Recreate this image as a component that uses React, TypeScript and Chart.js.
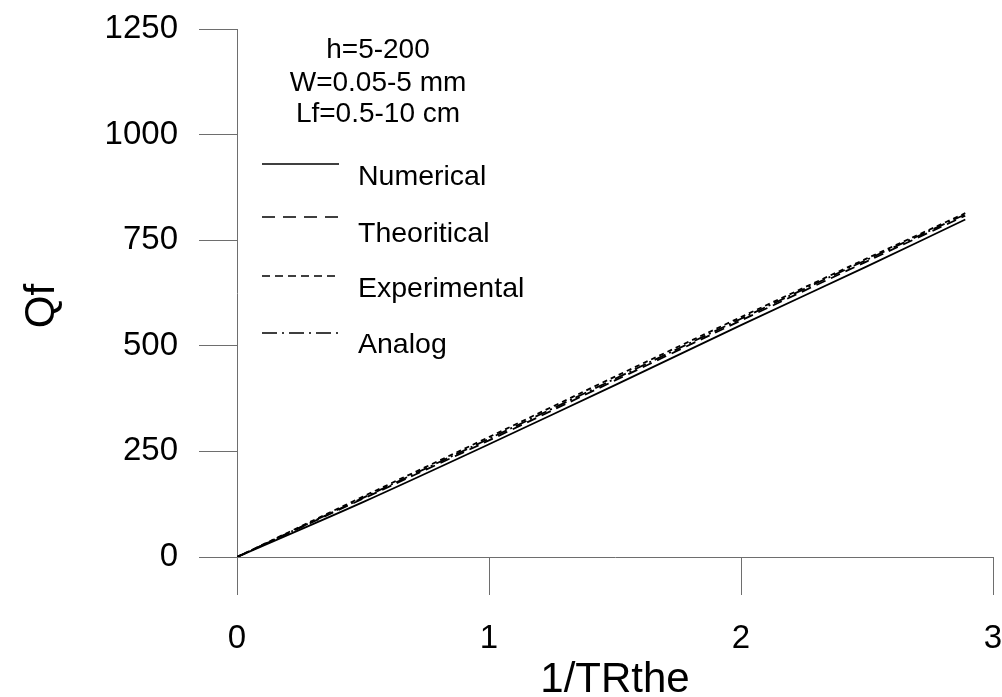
import React, { useEffect, useRef } from "react";
import { Chart, registerables } from "chart.js";

Chart.register(...registerables);

const xValues = [0, 0.5, 1, 1.5, 2, 2.5, 2.89];
const numerical = [0, 130, 267, 407, 549, 688, 799];
const theoritical = [0, 138, 276, 418, 560, 700, 808];
const experimental = [0, 143, 284, 427, 568, 707, 814];
const analog = [0, 140, 280, 422, 564, 704, 811];

const xTicks = [0, 1, 2, 3];
const yTicks = [0, 250, 500, 750, 1000, 1250];

const seriesNames = ["Numerical", "Theoritical", "Experimental", "Analog"];
const annotationLines = ["h=5-200", "W=0.05-5 mm", "Lf=0.5-10 cm"];
const xTitle = "1/TRthe";
const yTitle = "Qf";

const FONT = "'Liberation Sans', Arial, sans-serif";
const AXIS_COLOR = "#6e6e6e";

const plotDashes = [[], [10, 6], [5, 4], [12, 4, 2, 4]];
const legendDashes = [[], [13, 8], [8, 5], [15, 5, 2, 5]];

const overlayPlugin = {
  id: "overlay",
  afterDraw(chart: any) {
    const ctx = chart.ctx;
    const area = chart.chartArea;
    ctx.save();
    ctx.fillStyle = "#000";
    // annotation
    ctx.font = `28px ${FONT}`;
    ctx.textAlign = "center";
    ctx.textBaseline = "alphabetic";
    const annX = 378;
    const annBase = [58, 91, 122];
    annotationLines.forEach((t, i) => ctx.fillText(t, annX, annBase[i]));
    // legend
    const lineY = [164, 217, 276, 333];
    const textBase = [185, 242, 297, 353];
    ctx.font = `28.5px ${FONT}`;
    seriesNames.forEach((name, i) => {
      ctx.beginPath();
      ctx.setLineDash(legendDashes[i]);
      ctx.lineWidth = 1.6;
      ctx.strokeStyle = "#000";
      ctx.moveTo(262, lineY[i]);
      ctx.lineTo(339, lineY[i]);
      ctx.stroke();
      ctx.setLineDash([]);
      ctx.textAlign = "left";
      ctx.fillText(name, 358, textBase[i]);
    });
    // axis titles
    ctx.font = `42px ${FONT}`;
    ctx.textAlign = "center";
    ctx.textBaseline = "middle";
    ctx.fillText(xTitle, (area.left + area.right) / 2, 680);
    ctx.translate(42, 306);
    ctx.rotate(-Math.PI / 2);
    ctx.fillText(yTitle, 0, 0);
    ctx.restore();
  },
};

export default function App() {
  const canvasRef = useRef<HTMLCanvasElement | null>(null);

  useEffect(() => {
    document.body.style.margin = "0";
    const canvas = canvasRef.current;
    if (!canvas) return;
    const mk = (label: string, data: number[], i: number) => ({
      label,
      data: xValues.map((x, k) => ({ x, y: data[k] })),
      borderColor: "#000",
      backgroundColor: "#000",
      borderWidth: 1.8,
      borderDash: plotDashes[i],
      pointRadius: 0,
      fill: false,
      tension: 0.3,
    });
    const chart = new Chart(canvas, {
      type: "line",
      data: {
        datasets: [
          mk(seriesNames[0], numerical, 0),
          mk(seriesNames[1], theoritical, 1),
          mk(seriesNames[2], experimental, 2),
          mk(seriesNames[3], analog, 3),
        ],
      },
      options: {
        animation: false,
        responsive: false,
        maintainAspectRatio: false,
        layout: { padding: { left: 0, right: 9, top: 29, bottom: 0 } },
        plugins: { legend: { display: false }, tooltip: { enabled: false } },
        scales: {
          x: {
            type: "linear",
            min: 0,
            max: 3,
            afterBuildTicks: (s: any) => {
              s.ticks = xTicks.map((v) => ({ value: v }));
            },
            afterFit: (s: any) => {
              s.height = 140;
              s.paddingLeft = 0;
              s.paddingRight = 0;
              s.paddingTop = 0;
              s.paddingBottom = 0;
            },
            grid: {
              drawOnChartArea: false,
              drawTicks: true,
              tickLength: 38,
              color: AXIS_COLOR,
              lineWidth: 1,
            },
            border: { display: true, color: AXIS_COLOR, width: 1 },
            ticks: {
              color: "#000",
              font: { family: FONT, size: 33 },
              padding: 24,
              maxRotation: 0,
              callback: (v: any) => String(v),
            },
          },
          y: {
            type: "linear",
            min: 0,
            max: 1250,
            afterBuildTicks: (s: any) => {
              s.ticks = yTicks.map((v) => ({ value: v }));
            },
            afterFit: (s: any) => {
              s.width = 237;
              s.paddingLeft = 0;
              s.paddingRight = 0;
              s.paddingTop = 0;
              s.paddingBottom = 0;
            },
            grid: {
              drawOnChartArea: false,
              drawTicks: true,
              tickLength: 38,
              color: AXIS_COLOR,
              lineWidth: 1,
            },
            border: { display: true, color: AXIS_COLOR, width: 1 },
            ticks: {
              color: "#000",
              font: { family: FONT, size: 33 },
              padding: 21,
              callback: (v: any) => String(v),
            },
          },
        },
      },
      plugins: [overlayPlugin],
    });
    return () => chart.destroy();
  }, []);

  return (
    <canvas
      ref={canvasRef}
      width={1002}
      height={697}
      style={{ display: "block", width: 1002, height: 697 }}
    />
  );
}
